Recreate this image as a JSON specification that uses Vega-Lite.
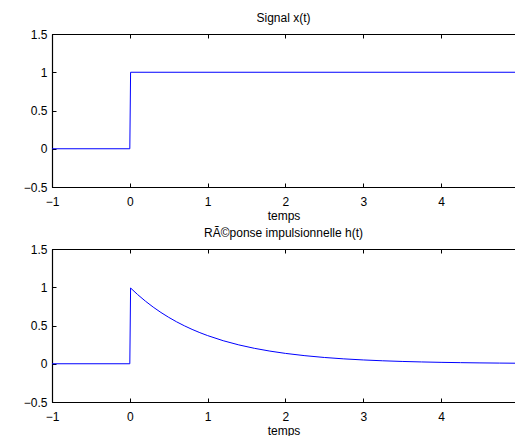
{
  "$schema": "https://vega.github.io/schema/vega-lite/v6.json",
  "padding": {"left": 22, "top": 11, "right": 0, "bottom": 0},
  "background": "white",
  "config": {
    "view": {"stroke": "black", "strokeWidth": 1},
    "font": "Liberation Sans",
    "axis": {
      "domainColor": "black", "domainWidth": 1.2,
      "tickColor": "black", "tickWidth": 1, "tickSize": -4,
      "labelColor": "black", "labelFontSize": 12, "labelFont": "Liberation Sans",
      "titleColor": "black", "titleFontSize": 12, "titleFontWeight": "normal", "titleFont": "Liberation Sans",
      "grid": false, "labelFlush": false, "labelOverlap": false
    },
    "title": {"fontSize": 12, "fontWeight": "normal", "color": "black", "font": "Liberation Sans"}
  },
  "datasets": {
    "x": [
      {"t": -1, "v": 0}, {"t": 0, "v": 0}, {"t": 0.01, "v": 1}, {"t": 4.95, "v": 1}
    ],
    "h": [
      {"t": -1, "v": 0}, {"t": 0, "v": 0}, {"t": 0.01, "v": 0.99},
      {"t": 0.1, "v": 0.9048}, {"t": 0.2, "v": 0.8187}, {"t": 0.3, "v": 0.7408},
      {"t": 0.4, "v": 0.6703}, {"t": 0.5, "v": 0.6065}, {"t": 0.6, "v": 0.5488},
      {"t": 0.7, "v": 0.4966}, {"t": 0.8, "v": 0.4493}, {"t": 0.9, "v": 0.4066},
      {"t": 1.0, "v": 0.3679}, {"t": 1.2, "v": 0.3012}, {"t": 1.4, "v": 0.2466},
      {"t": 1.6, "v": 0.2019}, {"t": 1.8, "v": 0.1653}, {"t": 2.0, "v": 0.1353},
      {"t": 2.25, "v": 0.1054}, {"t": 2.5, "v": 0.0821}, {"t": 2.75, "v": 0.0639},
      {"t": 3.0, "v": 0.0498}, {"t": 3.25, "v": 0.0388}, {"t": 3.5, "v": 0.0302},
      {"t": 3.75, "v": 0.0235}, {"t": 4.0, "v": 0.0183}, {"t": 4.25, "v": 0.0143},
      {"t": 4.5, "v": 0.0111}, {"t": 4.75, "v": 0.0087}, {"t": 4.95, "v": 0.0071}
    ]
  },
  "spacing": 62,
  "bounds": "flush",
  "vconcat": [
    {
      "width": 463, "height": 153,
      "title": {"text": "Signal x(t)", "offset": 3},
      "data": {"name": "x"},
      "layer": [
        {
          "mark": {"type": "line", "color": "#0000ff", "strokeWidth": 1},
          "encoding": {
            "x": {"field": "t", "type": "quantitative", "scale": {"domain": [-1, 4.95], "nice": false, "zero": false},
                  "axis": {"title": "temps", "values": [-1, 0, 1, 2, 3, 4], "format": "~g", "labelPadding": 13, "titlePadding": 3}},
            "y": {"field": "v", "type": "quantitative", "scale": {"domain": [-0.5, 1.5], "nice": false},
                  "axis": {"title": null, "values": [-0.5, 0, 0.5, 1, 1.5], "format": "~g", "labelPadding": 9}}
          }
        },
        {
          "mark": {"type": "line", "opacity": 0},
          "encoding": {
            "x": {"field": "t", "type": "quantitative", "scale": {"domain": [-1, 4.95], "nice": false, "zero": false},
                  "axis": {"orient": "top", "title": null, "labels": false, "domain": true, "ticks": true, "values": [-1, 0, 1, 2, 3, 4], "domainWidth": 1}},
            "y": {"field": "v", "type": "quantitative", "scale": {"domain": [-0.5, 1.5], "nice": false},
                  "axis": {"title": null, "values": [-0.5, 0, 0.5, 1, 1.5], "format": "~g", "labelPadding": 9}}
          }
        }
      ],
      "resolve": {"axis": {"x": "independent"}}
    },
    {
      "width": 463, "height": 153,
      "title": {"text": "RÃ©ponse impulsionnelle h(t)", "offset": 3},
      "data": {"name": "h"},
      "layer": [
        {
          "mark": {"type": "line", "color": "#0000ff", "strokeWidth": 1},
          "encoding": {
            "x": {"field": "t", "type": "quantitative", "scale": {"domain": [-1, 4.95], "nice": false, "zero": false},
                  "axis": {"title": "temps", "values": [-1, 0, 1, 2, 3, 4], "format": "~g", "labelPadding": 13, "titlePadding": 3}},
            "y": {"field": "v", "type": "quantitative", "scale": {"domain": [-0.5, 1.5], "nice": false},
                  "axis": {"title": null, "values": [-0.5, 0, 0.5, 1, 1.5], "format": "~g", "labelPadding": 9}}
          }
        },
        {
          "mark": {"type": "line", "opacity": 0},
          "encoding": {
            "x": {"field": "t", "type": "quantitative", "scale": {"domain": [-1, 4.95], "nice": false, "zero": false},
                  "axis": {"orient": "top", "title": null, "labels": false, "domain": true, "ticks": true, "values": [-1, 0, 1, 2, 3, 4], "domainWidth": 1}},
            "y": {"field": "v", "type": "quantitative", "scale": {"domain": [-0.5, 1.5], "nice": false},
                  "axis": {"title": null, "values": [-0.5, 0, 0.5, 1, 1.5], "format": "~g", "labelPadding": 9}}
          }
        }
      ],
      "resolve": {"axis": {"x": "independent"}}
    }
  ]
}
